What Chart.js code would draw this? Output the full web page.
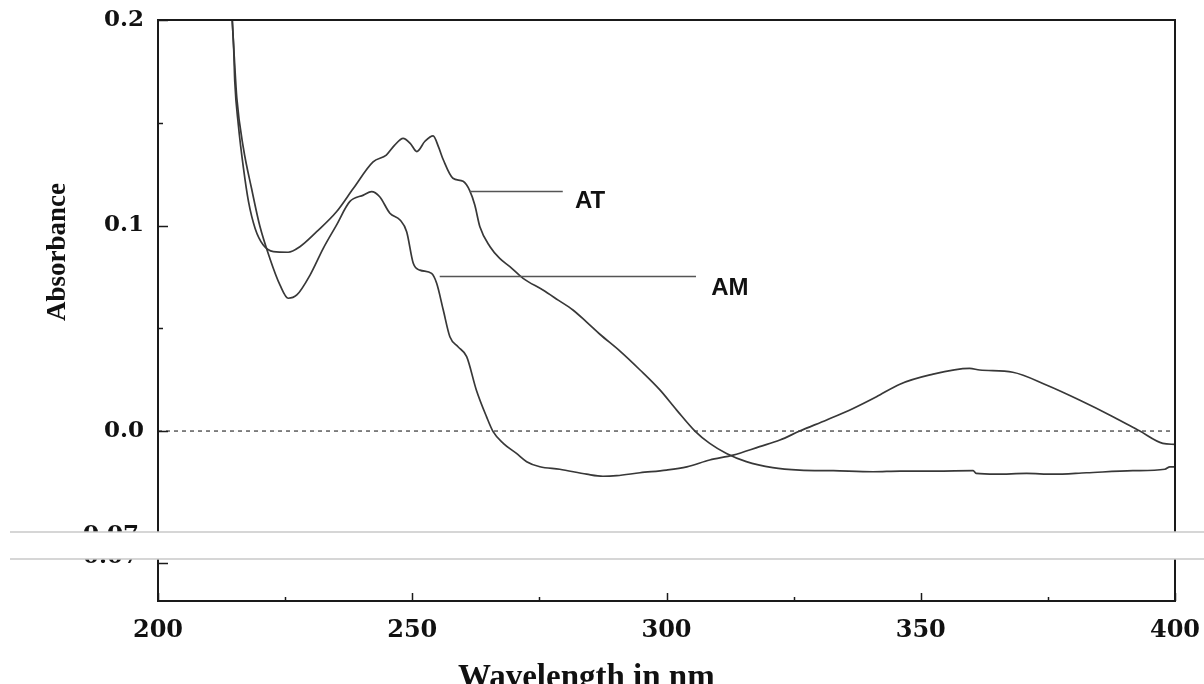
<!DOCTYPE html>
<html><head><meta charset="utf-8">
<script src="https://cdn.jsdelivr.net/npm/chart.js@4.4.1/dist/chart.umd.min.js"></script>
<style>html,body{margin:0;padding:0;background:#fff;}#wrap{width:1204px;height:684px;position:relative;}canvas{display:block;}</style>
</head><body><div id="wrap"><canvas id="c" width="1204" height="684"></canvas></div>
<script>
// ---- data ----
const atWavelength = [214.6,214.9,215.1,215.8,216.8,217.8,219.1,220.7,222.7,225.6,227.9,231.2,235.1,238.4,242.3,244.9,246.5,248.2,249.6,250.9,252.5,254.1,255.2,256.1,258.0,260.0,261.3,262.3,263.3,265.3,267.2,269.2,271.8,275.7,278.7,281.6,284.3,286.9,290.8,294.8,298.7,302.0,305.6,308.5,311.8,315.7,320.9,326.2,332.8,340.6,346.0,353.0,360.3,360.9,364.8,370.8,376.0,382.6,391.7,398.0,399.0,400.0];
const atAbsorbance = [0.200,0.185,0.170,0.149,0.128,0.1116,0.0986,0.0905,0.0873,0.0870,0.0897,0.097,0.1067,0.118,0.131,0.1343,0.139,0.1424,0.140,0.136,0.141,0.1436,0.138,0.132,0.123,0.1215,0.117,0.110,0.0994,0.0897,0.084,0.080,0.0743,0.0686,0.0637,0.0589,0.053,0.0471,0.0390,0.0297,0.020,0.0102,0.0,-0.006,-0.0109,-0.0149,-0.0178,-0.019,-0.0193,-0.0198,-0.0195,-0.0195,-0.0193,-0.0206,-0.021,-0.0206,-0.021,-0.0203,-0.0193,-0.0186,-0.0174,-0.0174];
const amWavelength = [214.6,215.0,215.5,216.8,218.4,220.0,222.0,224.0,225.6,227.3,229.9,232.5,235.1,237.7,240.4,242.0,243.6,245.6,247.6,248.9,250.2,251.5,253.8,254.8,256.1,257.4,259.0,260.7,262.6,264.6,265.9,267.9,270.5,272.5,275.1,279.0,284.3,287.5,290.2,294.8,300.0,304.0,308.5,313.1,318.3,322.3,326.2,331.5,336.7,341.3,345.9,351.8,359.6,361.6,368.1,374.7,381.2,387.8,393.0,397.6,400.0];
const amAbsorbance = [0.200,0.182,0.162,0.1376,0.118,0.100,0.084,0.071,0.0646,0.0662,0.0759,0.0889,0.1002,0.1116,0.1148,0.1165,0.114,0.106,0.1027,0.097,0.0816,0.0783,0.0767,0.0719,0.0589,0.0459,0.041,0.0362,0.020,0.007,-0.0003,-0.006,-0.0109,-0.0149,-0.0174,-0.0186,-0.021,-0.022,-0.0217,-0.0203,-0.019,-0.0174,-0.0141,-0.0117,-0.0076,-0.0044,0.0,0.0054,0.011,0.0167,0.0228,0.0273,0.0305,0.0297,0.0286,0.0224,0.0151,0.007,0.0001,-0.006,-0.0065];
const xTickValues = [200,225,250,275,300,325,350,375,400];
const xTickLabels = ['200','','250','','300','','350','','400'];
const yTickValues = [0.2,0.15,0.1,0.05,0,-0.064];
const yTickLabels = ['0.2','','0.1','','0.0','-0.07'];
const seriesNames = ['AT','AM'];
const leaderStart = [261.3,255.4];
const leaderEnd = [279.6,305.8];
const leaderLevel = [0.117,0.0754];
const labelWavelength = [282.0,308.8];
const labelLevel = [0.1116,0.0694];
const xTitle = 'Wavelength in nm';
const yTitle = 'Absorbance';

const toXY = (xs, ys) => xs.map((x,i)=>({x:x,y:ys[i]}));
const INK = '#1a1a1a';
const CURVE = '#383838';

const decor = {
  id:'decor',
  afterDatasetsDraw(chart){
    const {ctx, chartArea:a, scales:{x,y}} = chart;
    ctx.save();
    // frame
    ctx.strokeStyle = INK; ctx.lineWidth = 2;
    ctx.strokeRect(a.left, a.top, a.right-a.left, a.bottom-a.top);
    // inward ticks
    ctx.lineWidth = 1.5;
    xTickValues.forEach((v,i)=>{
      const px = Math.round(x.getPixelForValue(v))+0.5;
      const len = xTickLabels[i] ? 8 : 4;
      ctx.beginPath(); ctx.moveTo(px,a.bottom); ctx.lineTo(px,a.bottom-len); ctx.stroke();
    });
    yTickValues.forEach((v,i)=>{
      const py = Math.round(y.getPixelForValue(v))+0.5;
      const len = yTickLabels[i] ? 10 : 5;
      ctx.beginPath(); ctx.moveTo(a.left,py); ctx.lineTo(a.left+len,py); ctx.stroke();
    });
    // leader lines and series labels
    ctx.strokeStyle = '#555'; ctx.lineWidth = 1.5;
    ctx.fillStyle = '#111';
    ctx.font = 'bold 24px "Liberation Sans Narrow", "Liberation Sans", sans-serif';
    ctx.textAlign = 'left'; ctx.textBaseline = 'middle';
    seriesNames.forEach((n,i)=>{
      const yy = Math.round(y.getPixelForValue(leaderLevel[i]))+0.5;
      ctx.beginPath(); ctx.moveTo(x.getPixelForValue(leaderStart[i]), yy);
      ctx.lineTo(x.getPixelForValue(leaderEnd[i]), yy); ctx.stroke();
      ctx.fillText(n, x.getPixelForValue(labelWavelength[i]), y.getPixelForValue(labelLevel[i]));
    });
    // axis titles
    ctx.fillStyle = '#111';
    ctx.font = 'bold 27px "Liberation Serif", serif';
    ctx.save();
    ctx.translate(58, 252); ctx.rotate(-Math.PI/2);
    ctx.textAlign='center'; ctx.textBaseline='middle';
    ctx.fillText(yTitle, 0, 0);
    ctx.restore();
    ctx.font = 'bold 33px "Liberation Serif", serif';
    ctx.textAlign='left'; ctx.textBaseline='alphabetic';
    ctx.fillText(xTitle, 458, 687);
    ctx.restore();
  },
  afterDraw(chart){
    const {ctx} = chart;
    const bandTop = 532, bandBot = 559;
    ctx.save();
    // split tick label (scan seam)
    const lbl = yTickLabels[yTickLabels.length-1];
    ctx.font = 'bold 23px "DejaVu Serif", serif';
    ctx.fillStyle = '#111'; ctx.textAlign='right'; ctx.textBaseline='middle';
    ctx.fillText(lbl, 139, bandTop+3);
    ctx.fillText(lbl, 139, bandBot-2);
    // seam band
    ctx.fillStyle = '#fff';
    ctx.fillRect(10, bandTop, 1194, bandBot-bandTop);
    ctx.strokeStyle = '#c9c9c9'; ctx.lineWidth = 1.5;
    ctx.beginPath(); ctx.moveTo(10,bandTop); ctx.lineTo(1204,bandTop);
    ctx.moveTo(10,bandBot); ctx.lineTo(1204,bandBot); ctx.stroke();
    ctx.restore();
  }
};

new Chart(document.getElementById('c'), {
  type:'line',
  data:{datasets:[
    {label:'baseline', data:toXY([200,400],[0,0]), borderColor:'#333', borderWidth:1.2, borderDash:[4,4], pointRadius:0, order:3},
    {label:'AT', data:toXY(atWavelength, atAbsorbance), borderColor:CURVE, borderWidth:1.7, pointRadius:0, cubicInterpolationMode:'monotone', order:1},
    {label:'AM', data:toXY(amWavelength, amAbsorbance), borderColor:CURVE, borderWidth:1.7, pointRadius:0, cubicInterpolationMode:'monotone', order:2}
  ]},
  options:{
    responsive:false, animation:false, devicePixelRatio:1,
    layout:{padding:{top:20,right:29,left:0,bottom:0}},
    plugins:{legend:{display:false}, tooltip:{enabled:false}},
    scales:{
      x:{type:'linear', min:200, max:400,
        afterBuildTicks:s=>{s.ticks = xTickValues.map(v=>({value:v}));},
        afterFit:s=>{s.height = 83; s.paddingLeft = 0; s.paddingRight = 0;},
        grid:{display:false, drawTicks:false}, border:{display:false},
        ticks:{autoSkip:false, maxRotation:0, padding:15, color:'#111',
          font:{family:'"DejaVu Serif", serif', weight:'bold', size:24},
          callback:(v,i)=>xTickLabels[i]}},
      y:{type:'linear', min:-0.0827, max:0.2,
        afterBuildTicks:s=>{s.ticks = yTickValues.map(v=>({value:v}));},
        afterFit:s=>{s.width = 158; s.paddingTop = 0; s.paddingBottom = 0;},
        grid:{display:false, drawTicks:false}, border:{display:false},
        ticks:{autoSkip:false, padding:14, color:'#111',
          font:{family:'"DejaVu Serif", serif', weight:'bold', size:23},
          callback:(v,i)=> i===yTickLabels.length-1 ? '' : yTickLabels[i]}}
    }
  },
  plugins:[decor]
});
</script></body></html>
